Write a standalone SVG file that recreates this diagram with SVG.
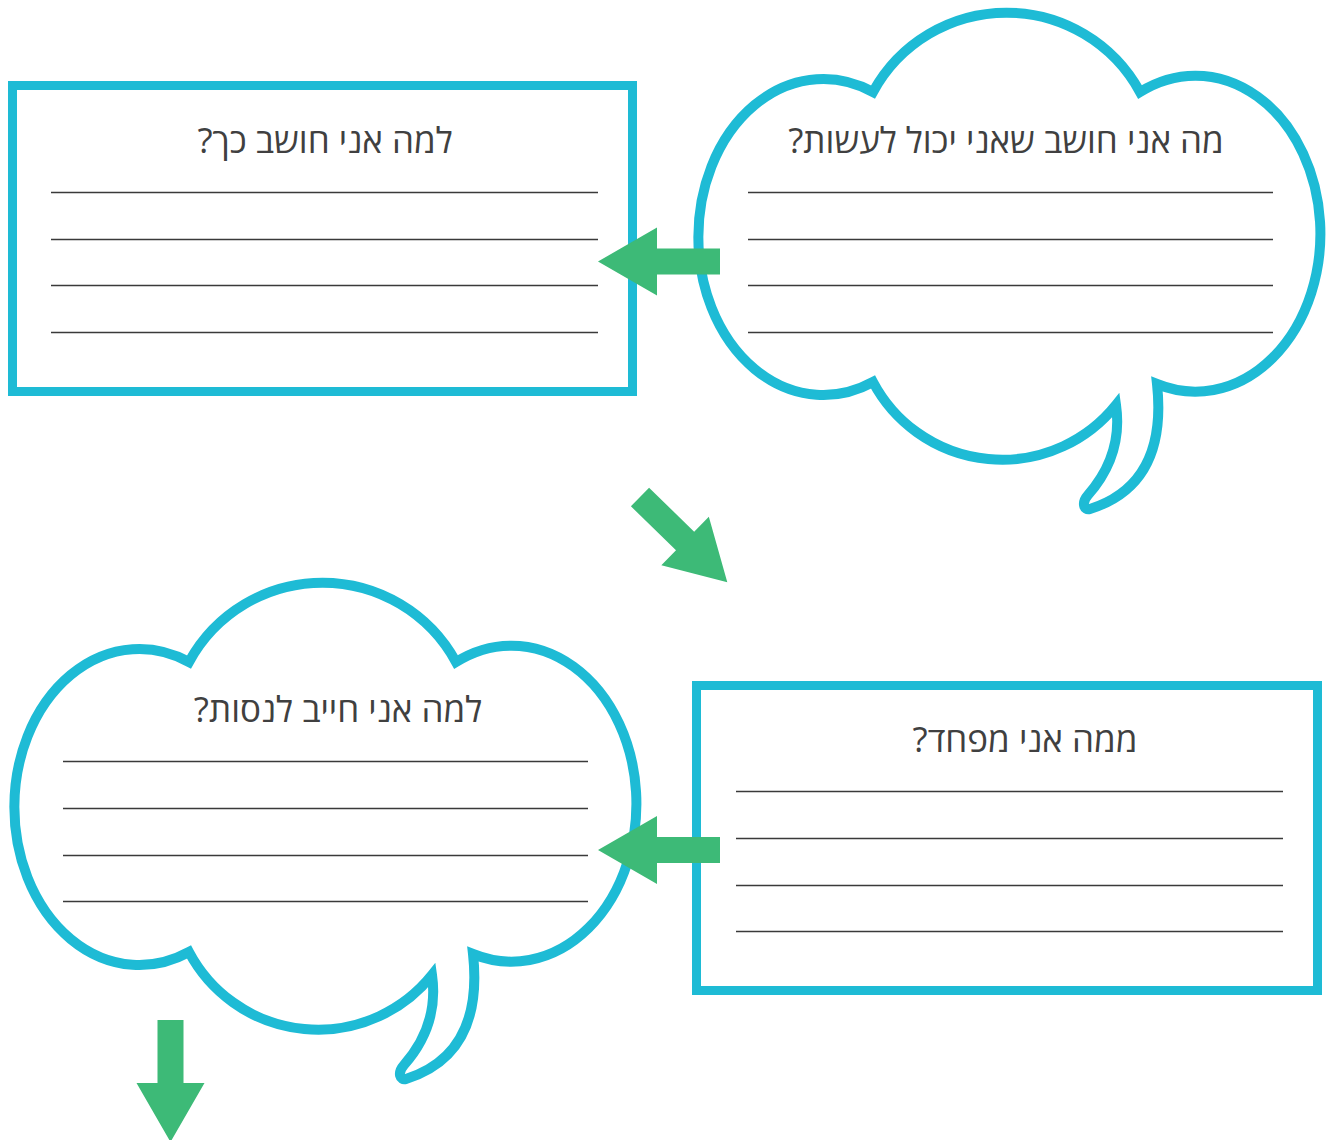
<svg xmlns="http://www.w3.org/2000/svg" xmlns:xlink="http://www.w3.org/1999/xlink" width="1329" height="1140" viewBox="0 0 1329 1140">
<style>
.frame{fill:#fff;stroke:#1ebbd5;stroke-width:9}
.cloud{fill:#fff;stroke:#1ebbd5;stroke-width:10;stroke-linejoin:miter;stroke-miterlimit:10}
.rule{stroke:#3a3a3a;stroke-width:1.3}
.title{font-family:"Open Sans","DejaVu Sans",sans-serif;font-size:35px;fill:#404040;text-anchor:middle}
.arrow{fill:#3dba77}
</style>
<defs>
<path id="cloudShape" d="M 873,92 A 152,152 0 0 1 1140,92 A 125,158 0 1 1 1157,384 C 1162,430 1156,488 1090,509 C 1084,511 1081,503 1088,495 C 1110,470 1121,440 1116,405 A 146,146 0 0 1 873,382 A 125,158 0 1 1 873,92 Z"/>
<polygon id="arr" points="0,-13 63,-13 63,-34 122,0 63,34 63,13 0,13"/>
</defs>

<g id="node-why-think">
<rect class="frame" x="12.5" y="85.5" width="620" height="306"/>
<text class="title" x="325" y="153" direction="rtl">למה אני חושב כך?</text>
<line class="rule" x1="51" y1="192.5" x2="598" y2="192.5"/>
<line class="rule" x1="51" y1="239.5" x2="598" y2="239.5"/>
<line class="rule" x1="51" y1="285.5" x2="598" y2="285.5"/>
<line class="rule" x1="51" y1="332.5" x2="598" y2="332.5"/>
</g>

<g id="node-what-can-do">
<use href="#cloudShape" class="cloud"/>
<text class="title" x="1006" y="153" direction="rtl">מה אני חושב שאני יכול לעשות?</text>
<line class="rule" x1="748" y1="192.5" x2="1273" y2="192.5"/>
<line class="rule" x1="748" y1="239.5" x2="1273" y2="239.5"/>
<line class="rule" x1="748" y1="285.5" x2="1273" y2="285.5"/>
<line class="rule" x1="748" y1="332.5" x2="1273" y2="332.5"/>
</g>

<g id="node-afraid">
<rect class="frame" x="696.5" y="685.5" width="621" height="305"/>
<text class="title" x="1025" y="752" direction="rtl">ממה אני מפחד?</text>
<line class="rule" x1="736" y1="791.5" x2="1283" y2="791.5"/>
<line class="rule" x1="736" y1="838.5" x2="1283" y2="838.5"/>
<line class="rule" x1="736" y1="885.5" x2="1283" y2="885.5"/>
<line class="rule" x1="736" y1="931.5" x2="1283" y2="931.5"/>
</g>

<g id="node-must-try">
<use href="#cloudShape" class="cloud" transform="translate(-684,570)"/>
<text class="title" x="338" y="722" direction="rtl">למה אני חייב לנסות?</text>
<line class="rule" x1="63" y1="761.5" x2="588" y2="761.5"/>
<line class="rule" x1="63" y1="808.5" x2="588" y2="808.5"/>
<line class="rule" x1="63" y1="855.5" x2="588" y2="855.5"/>
<line class="rule" x1="63" y1="901.5" x2="588" y2="901.5"/>
</g>

<g id="connectors">
<use href="#arr" class="arrow" transform="translate(720,261.5) rotate(180)"/>
<use href="#arr" class="arrow" transform="translate(640,497) rotate(44.3)"/>
<use href="#arr" class="arrow" transform="translate(720,850) rotate(180)"/>
<use href="#arr" class="arrow" transform="translate(170.5,1020) rotate(90)"/>
</g>
</svg>
